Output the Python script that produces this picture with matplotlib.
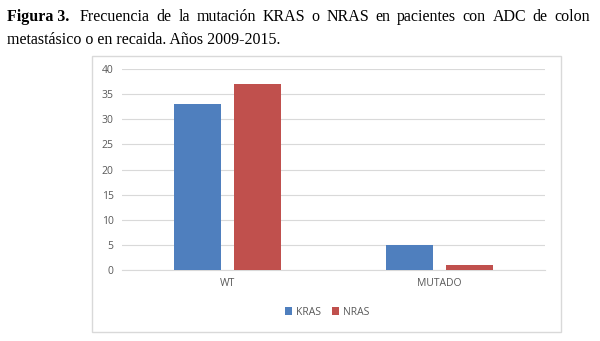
import numpy as np
import matplotlib.pyplot as plt
from matplotlib.patches import Rectangle

categories = ['WT', 'MUTADO']
kras = [33, 5]
nras = [37, 1]
yticks = [0, 5, 10, 15, 20, 25, 30, 35, 40]

title1 = 'Frecuencia de la mutación KRAS o NRAS en pacientes con ADC de colon'
title2 = 'metastásico o en recaida. Años 2009-2015.'

blue = '#4f7fbe'
red = '#c0504d'
gray = '#595959'

fig = plt.figure(figsize=(6, 3.41), dpi=100)
W, H = 600, 341

# chart frame
fig.patches.append(Rectangle((92 / W, 1 - 332 / H), (561 - 92) / W, (332 - 56) / H,
                             transform=fig.transFigure, fill=False,
                             edgecolor='#d9d9d9', linewidth=1))

ax = fig.add_axes([122 / W, 1 - 270 / H, (545 - 122) / W, (270 - 69) / H])
x = np.arange(len(categories))
w = 0.222
ax.bar(x - 0.142, kras, w, color=blue, label='KRAS', zorder=3)
ax.bar(x + 0.142, nras, w, color=red, label='NRAS', zorder=3)
ax.set_xlim(-0.5, 1.5)
ax.set_ylim(0, 40)
ax.set_yticks(yticks)
ax.set_xticks(x)
ax.set_xticklabels(categories)
ax.grid(axis='y', color='#d9d9d9', linewidth=0.8, zorder=0)
for s in ['top', 'right', 'left']:
    ax.spines[s].set_visible(False)
ax.spines['bottom'].set_color('#d9d9d9')
ax.tick_params(length=0, labelsize=7.5, labelcolor=gray, pad=6)
for lab in ax.get_xticklabels() + ax.get_yticklabels():
    lab.set_family('Open Sans')

leg = ax.legend(loc='center', bbox_to_anchor=(0.485, -0.21), ncol=2, frameon=False,
                prop={'family': 'Open Sans', 'size': 7.5}, handlelength=0.7,
                handleheight=0.7, handletextpad=0.4, columnspacing=1.0)
for t in leg.get_texts():
    t.set_color(gray)

# caption, first line justified between x=80 and x=590
fs = 11.5
fig.text(7 / W, 1 - 17 / H, 'Figura 3.', family='Liberation Serif', weight='bold',
         fontsize=fs, va='center', ha='left')
renderer = fig.canvas.get_renderer()
words = title1.split()
texts = [fig.text(0, 1 - 17 / H, wd, family='Liberation Serif', fontsize=fs,
                  va='center', ha='left') for wd in words]
widths = [t.get_window_extent(renderer).width for t in texts]
x0, x1 = 80, 590
gap = (x1 - x0 - sum(widths)) / (len(words) - 1)
pos = x0
for t, wd in zip(texts, widths):
    t.set_x(pos / W)
    pos += wd + gap
fig.text(7 / W, 1 - 40 / H, title2, family='Liberation Serif', fontsize=fs,
         va='center', ha='left')

fig.savefig('out.png', dpi=100)
